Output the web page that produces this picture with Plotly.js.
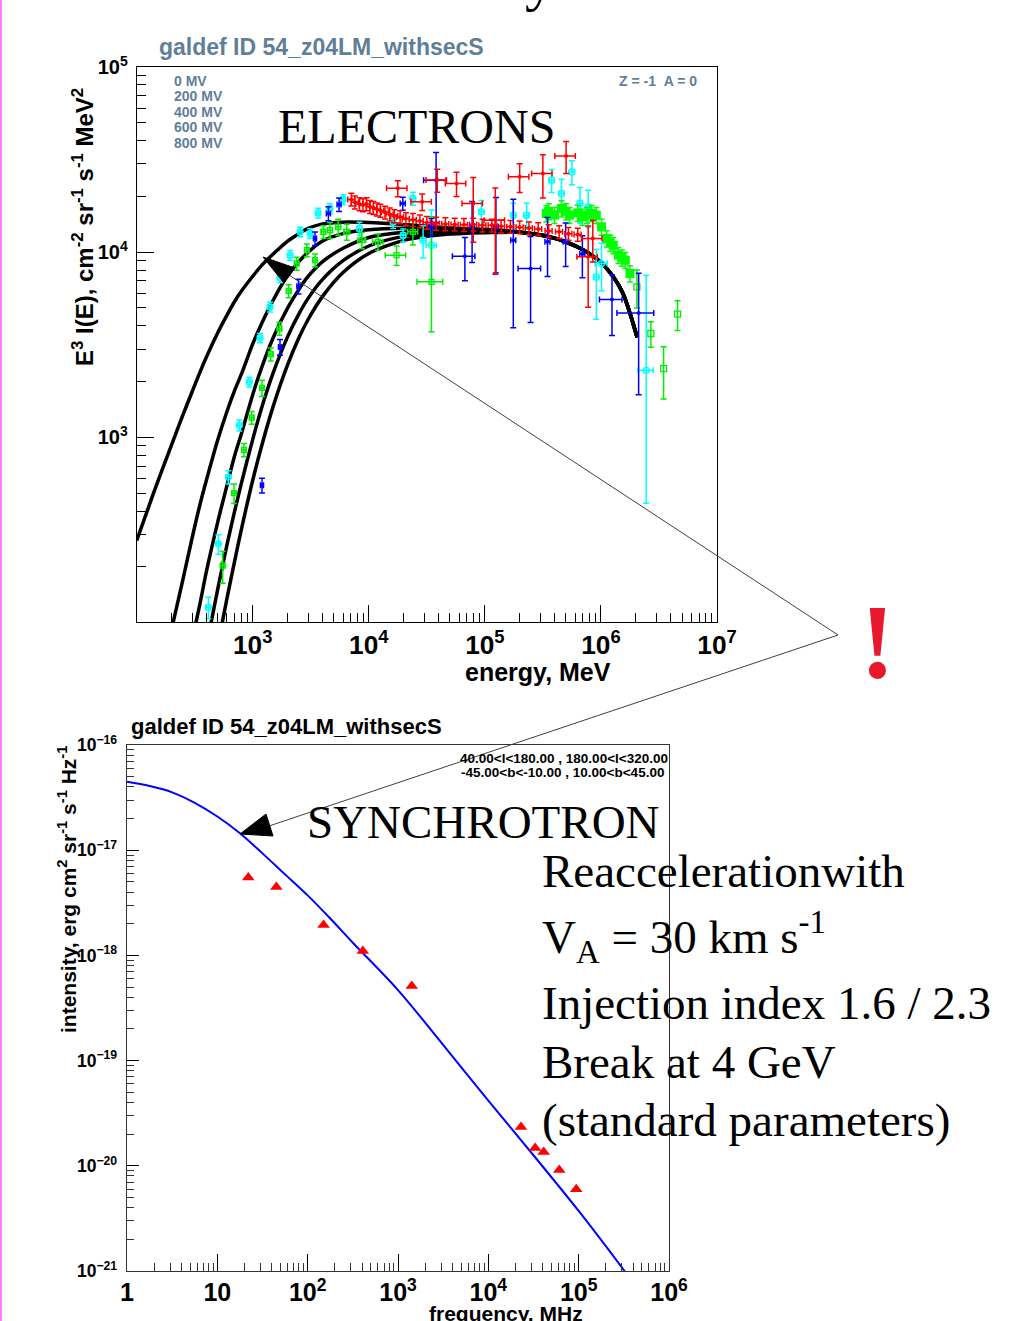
<!DOCTYPE html>
<html><head><meta charset="utf-8">
<script src="https://cdn.plot.ly/plotly-3.0.1.min.js"></script>
<style>html,body{margin:0;padding:0;background:#fff}#chart{width:1012px;height:1321px}</style>
</head><body><div id="chart"></div>
<script>
// ===== Top panel: electron spectra E^3 I(E) =====
const modelEnergy = [100,140,200,250,300,350,400,500,600,700,800,1000,1200,1500,2000,2500,3000,4000,6000,10000,20000,40000,70000,120000,200000,350000,500000,700000,1000000,1300000,1550000,1800000,2050000];
const model0MV   = [277,501,912,1318,1758,2239,2723,3673,4571,5433,6166,7413,8511,9772,11480,12590,13430,14220,14520,14450,14100,13650,13400,13200,12800,12150,11350,10300,8800,7250,5980,4570,3470];
const model200MV = [null,null,92,170,285,430,590,970,1380,1800,2200,3200,4150,5500,7500,8900,10000,11500,12600,13200,13450,13400,13350,13150,12800,12150,11350,10300,8800,7250,5980,4570,3470];
const model400MV = [null,null,null,null,80,125,190,350,550,800,1050,1700,2400,3450,5000,6300,7400,8900,10500,12000,12800,13050,13100,13050,12800,12150,11350,10300,8800,7250,5980,4570,3470];
const model600MV = [null,null,null,null,null,null,75,152,263,402,568,976,1460,2230,3500,4640,5630,7130,9000,10800,12170,12670,12840,12950,12800,12150,11350,10300,8800,7250,5980,4570,3470];
const model800MV = [null,null,null,null,null,null,null,75,135,216,320,587,910,1470,2470,3450,4330,5770,7760,9840,11590,12370,12660,12760,12800,12150,11350,10300,8800,7250,5980,4570,3470];
const modelLabels = ['0 MV','200 MV','400 MV','600 MV','800 MV'];

// measured electrons (energy MeV, E^3 I, errors)
const redE = [7080,7590,8320,8910,9550,10230,10960,11750,12590,13800,15140,16600,18620,20890,23990,27540,31620,38020,45710,54950,66070,79430,95500,114800,138000,166000,199500,239900,288400,354800,436500,524800,631000];
const redY = [19280,18620,18200,17990,18200,17580,17380,17060,16790,16410,16030,15670,15490,15140,14960,14720,14450,14290,14190,14130,14060,14130,13960,13960,13800,13740,13650,13490,13340,13030,12880,12590,12450];
const red2E = [17780,28840,38900,57020,79430,123000,199500,316200,501200,776200,851100];
const red2Y = [22130,18710,24550,23500,18320,14890,25530,26610,33110,9440,11860];
const red2Err = [2200,1900,3500,3500,7000,7300,4500,7000,6500,4400,3000];

const blueE = [1202,1718,2477,3443,4487,5546,19630,34670,38020,67300,77620,124500,175800,247700,346700,496600,691800,1245000,2113000];
const blueY = [551,3076,6546,11860,16180,18110,18320,13710,24490,9510,13800,13710,11610,8170,11380,11380,9770,5546,4699];
const blueErr = [50,300,600,1000,1400,1500,1500,1500,10000,2500,5000,6000,7700,4000,4000,3000,2500,2000,3000];
const blueXrel = [0.03,0.03,0.03,0.03,0.04,0.04,0.05,0.05,0.22,0.22,0.05,0.05,0.05,0.22,0.05,0.05,0.05,0.22,0.35];

const cyanE = [415,506,617,767,935,1156,1409,1718,2099,2559,3119,3656,4613,6026,8318,16220,19770,23990,29380,34670,93330,175800,229100,375800,457100,562300,660700,776200,912000,1012000,2455000];
const cyanY = [121,266,610,1161,1991,3443,5058,7295,9638,12880,12620,16290,17220,19280,13430,14590,12360,19500,11610,10910,16520,15850,15850,24490,20750,27160,18320,17580,7345,8690,2301];
const cyanErrUp = [16,32,50,80,120,200,300,440,580,770,760,980,1030,1160,1070,1170,1000,1560,2300,6000,2500,2500,2500,3500,4000,4000,4000,4000,3000,2500,5200];
const cyanErrDn = [16,32,50,80,120,200,300,440,580,770,760,980,1030,1160,1070,1170,1000,1560,2300,4000,2500,2500,2500,3500,4000,4000,4000,4000,3000,2500,1860];
const cyanXrel = [0.04,0.04,0.04,0.04,0.04,0.04,0.04,0.04,0.04,0.04,0.04,0.04,0.04,0.04,0.05,0.05,0.05,0.05,0.05,0.1,0.05,0.05,0.05,0.05,0.05,0.05,0.05,0.05,0.05,0.12,0.15];

const greenE = [551,690,841,980,1202,1429,1698,2042,2393,2924,3443,4064,4634,5445,6457,8710,12020,17340,23990,34670];
const greenY = [203,500,857,1279,1849,2812,3873,6180,8690,10260,9057,12880,13150,13710,12880,11610,11380,9638,12880,6918];
const greenErrUp = [40,60,70,100,185,225,310,500,700,820,720,1030,1300,1370,1290,1160,1140,1160,1930,8600];
const greenErrDn = [40,60,70,100,185,225,310,500,700,820,720,1030,1300,1370,1290,1160,1140,1160,1930,3200];
const greenXrel = [0.04,0.04,0.04,0.04,0.04,0.04,0.04,0.04,0.04,0.04,0.04,0.04,0.05,0.05,0.06,0.08,0.1,0.2,0.1,0.25];
const greenHiE = [338800,354800,398100,457100,501200,537000,631000,691800,758600,831800,912000,1012000,1122000,1202000,1276000,1413000,1514000,1622000,1778000];
const greenHiY = [16180,16600,15850,17220,16600,15850,16290,15490,15850,16220,15850,13710,11860,11220,10910,9638,9330,9057,7674];
const greenFarE = [2042000,2692000,3467000,4571000];
const greenFarY = [6501,3639,2350,4624];
const greenFarErr = [1500,570,740,850];

// ===== Bottom panel: synchrotron =====
const freqModel = [1,1.78,3.16,5.62,10,17.8,31.6,56.2,100,178,316,1000,3160,10000,31600,100000,316000,355000];
const synchModel = [4.47e-17,4.07e-17,3.55e-17,2.82e-17,2.09e-17,1.45e-17,9.33e-18,5.89e-18,3.72e-18,2.24e-18,1.32e-18,4.68e-19,1.41e-19,4.17e-20,1.26e-20,3.72e-21,1.02e-21,8.9e-22];
const surveyFreq = [22,45,150,408,1420,23000,33000,41000,61000,94000];
const surveyI = [5.5e-18,4.47e-18,1.95e-18,1.10e-18,5.13e-19,2.34e-20,1.48e-20,1.35e-20,9.1e-21,6.0e-21];

// ===== Drawing =====
const W = 1012, H = 1321;
const SANS = 'Liberation Sans, Arial, sans-serif';
const SERIF = 'Liberation Serif, Times New Roman, serif';
const SLATE = '#5f7e98';
const px = x => x / W, py = y => 1 - y / H;

function errBar(color, up, dn){ return {type:'data', symmetric: dn===undefined, array: up, arrayminus: dn, color, thickness:1.5, width:3}; }
function relErr(E, rel){ return E.map((e,i)=>e*rel[i]); }

const traces = [];
[model0MV, model200MV, model400MV, model600MV, model800MV].forEach((m,i)=>{
  traces.push({x:modelEnergy, y:m, name:modelLabels[i], type:'scatter', mode:'lines', xaxis:'x', yaxis:'y',
    line:{color:'#000', width:3.5, shape:'spline', smoothing:0.8}, connectgaps:false});
});
traces.push({x:cyanE, y:cyanY, type:'scatter', mode:'markers', xaxis:'x', yaxis:'y',
  marker:{symbol:'circle-open', size:6, color:'#00ffff', line:{width:1.3, color:'#00ffff'}},
  error_y: errBar('#00ffff', cyanErrUp, cyanErrDn), error_x:{type:'data', array: relErr(cyanE,cyanXrel), color:'#00ffff', thickness:1.5, width:3}});
traces.push({x:greenE, y:greenY, type:'scatter', mode:'markers', xaxis:'x', yaxis:'y',
  marker:{symbol:'square-open', size:5, color:'#00ee00', line:{width:1.2, color:'#00ee00'}},
  error_y: errBar('#00ee00', greenErrUp, greenErrDn), error_x:{type:'data', array: relErr(greenE,greenXrel), color:'#00ee00', thickness:1.5, width:3}});
traces.push({x:greenHiE, y:greenHiY, type:'scatter', mode:'markers', xaxis:'x', yaxis:'y',
  marker:{symbol:'square', size:9, color:'#00ff00'},
  error_y:{type:'percent', value:10, color:'#00ff00', thickness:1.5, width:3}, error_x:{type:'percent', value:5, color:'#00ff00', thickness:1.5, width:3}});
traces.push({x:greenFarE, y:greenFarY, type:'scatter', mode:'markers', xaxis:'x', yaxis:'y',
  marker:{symbol:'square-open', size:6, color:'#00ee00', line:{width:1.3, color:'#00ee00'}},
  error_y: errBar('#00ee00', greenFarErr)});
traces.push({x:blueE, y:blueY, type:'scatter', mode:'markers', xaxis:'x', yaxis:'y',
  marker:{symbol:'circle', size:4, color:'#0000ff'},
  error_y: errBar('#0000ff', blueErr), error_x:{type:'data', array: relErr(blueE,blueXrel), color:'#0000ff', thickness:1.5, width:3}});
traces.push({x:redE, y:redY, type:'scatter', mode:'markers', xaxis:'x', yaxis:'y',
  marker:{symbol:'circle', size:4, color:'#ff0000'},
  error_y:{type:'percent', value:8, color:'#ff0000', thickness:1.5, width:3}, error_x:{type:'percent', value:7, color:'#ff0000', thickness:1.5, width:3}});
traces.push({x:red2E, y:red2Y, type:'scatter', mode:'markers', xaxis:'x', yaxis:'y',
  marker:{symbol:'circle', size:4, color:'#ff0000'},
  error_y: errBar('#ff0000', red2Err), error_x:{type:'percent', value:20, color:'#ff0000', thickness:1.5, width:3}});

traces.push({x:freqModel, y:synchModel, type:'scatter', mode:'lines', xaxis:'x2', yaxis:'y2',
  line:{color:'#0000ff', width:2, shape:'spline', smoothing:1}});
traces.push({x:surveyFreq, y:surveyI, type:'scatter', mode:'markers', xaxis:'x2', yaxis:'y2',
  marker:{symbol:'triangle-up', size:11, color:'#ff0000'}});

function logAxis(extra){
  return Object.assign({type:'log', dtick:1, tick0:0, exponentformat:'power', showline:true, linecolor:'#000', linewidth:1, mirror:true,
    ticks:'inside', tickcolor:'#000', tickwidth:1, showgrid:false, zeroline:false,
    minor:{ticks:'inside', ticklen:9, tickcolor:'#000', tickwidth:1, showgrid:false}}, extra);
}

const tickBold = s => ({family:SANS, size:s, color:'#000', weight:'bold'});

const layout = {
  width:W, height:H, margin:{l:0,r:0,t:0,b:0}, paper_bgcolor:'#fff', plot_bgcolor:'#fff', showlegend:false,
  xaxis: logAxis({domain:[px(137),px(717)], anchor:'y', range:[2.003,7], ticklen:17, tickfont:tickBold(21), ticklabelstandoff:1}),
  yaxis: logAxis({domain:[py(622),py(67)], anchor:'x', range:[2.003,5], ticklen:17, tickfont:tickBold(16), ticklabelstandoff:5}),
  xaxis2: logAxis({domain:[px(127),px(669)], anchor:'y2', range:[0,6], ticklen:17, tickfont:tickBold(20), ticklabelstandoff:0,
    linecolor:'#333', minor:{ticks:'inside', ticklen:8, tickcolor:'#333', tickwidth:1, showgrid:false}}),
  yaxis2: logAxis({domain:[py(1271),py(745)], anchor:'x2', range:[-21,-16], ticklen:12, tickfont:tickBold(14), ticklabelstandoff:6,
    linecolor:'#333', minor:{ticks:'inside', ticklen:7, tickcolor:'#333', tickwidth:1, showgrid:false}}),
  annotations: [],
  shapes: []
};

function ann(text, x, y, opts){
  return Object.assign({text, x:px(x), y:py(y), xref:'paper', yref:'paper', showarrow:false, xanchor:'center', yanchor:'middle'}, opts);
}
const A = layout.annotations;
A.push(ann('galdef ID 54_z04LM_withsecS', 157, 47, {xanchor:'left', font:{family:SANS, size:23, color:SLATE, weight:'bold'}}));
modelLabels.forEach((t,i)=>A.push(ann(t, 172, 81 + i*15.5, {xanchor:'left', font:{family:SANS, size:14, color:SLATE, weight:'bold'}})));
A.push(ann('Z = -1\u00a0\u00a0A = 0', 699, 81, {xanchor:'right', font:{family:SANS, size:14, color:SLATE, weight:'bold'}}));
A.push(ann('ELECTRONS', 276, 127, {xanchor:'left', font:{family:SERIF, size:48, color:'#000'}}));
A.push(ann('E<sup>3</sup> I(E), cm<sup>-2</sup> sr<sup>-1</sup> s<sup>-1</sup> MeV<sup>2</sup>', 83, 227, {textangle:-90, font:{family:SANS, size:24, color:'#000', weight:'bold'}}));
A.push(ann('energy, MeV', 538, 672, {font:{family:SANS, size:25, color:'#000', weight:'bold'}}));

A.push(ann('galdef ID 54_z04LM_withsecS', 129, 726, {xanchor:'left', font:{family:SANS, size:22, color:'#000', weight:'bold'}}));
A.push(ann('40.00&lt;l&lt;180.00 , 180.00&lt;l&lt;320.00', 564, 758, {font:{family:SANS, size:13.5, color:'#000', weight:'bold'}}));
A.push(ann('-45.00&lt;b&lt;-10.00 , 10.00&lt;b&lt;45.00', 562, 772, {font:{family:SANS, size:13.5, color:'#000', weight:'bold'}}));
A.push(ann('intensity, erg cm<sup>2</sup> sr<sup>-1</sup> s<sup>-1</sup> Hz<sup>-1</sup>', 67, 890, {textangle:-90, font:{family:SANS, size:21, color:'#000', weight:'bold'}}));
A.push(ann('frequency, MHz', 506, 1313, {font:{family:SANS, size:21, color:'#000', weight:'bold'}}));

const serif47 = {family:SERIF, size:47, color:'#000'};
A.push(ann('SYNCHROTRON', 305, 822, {xanchor:'left', font:serif47}));
A.push(ann('Reaccelerationwith', 540, 871, {xanchor:'left', font:serif47}));
A.push(ann('V<sub>A</sub> = 30 km s<sup>-1</sup>', 540, 937, {xanchor:'left', font:serif47}));
A.push(ann('Injection index 1.6 / 2.3', 540, 1003, {xanchor:'left', font:serif47}));
A.push(ann('Break at 4 GeV', 540, 1062, {xanchor:'left', font:serif47}));
A.push(ann('(standard parameters)', 540, 1120, {xanchor:'left', font:serif47}));
A.push(ann('!', 877, 643, {font:{family:SERIF, size:105, color:'#e8192c', weight:'bold'}}));
A.push(ann('y', 540, -21, {font:{family:SERIF, size:60, color:'#000'}}));

const S = layout.shapes;
S.push({type:'line', xref:'paper', yref:'paper', x0:px(1), x1:px(1), y0:0, y1:1, line:{color:'#ff80ff', width:2}});
S.push({type:'line', xref:'paper', yref:'paper', x0:px(838), y0:py(635), x1:px(289), y1:py(275), line:{color:'#404040', width:1}, layer:'above'});
S.push({type:'line', xref:'paper', yref:'paper', x0:px(838), y0:py(635), x1:px(269), y1:py(826), line:{color:'#404040', width:1}, layer:'above'});
function tri(p){ return 'M ' + p.map(q=>px(q[0])+' '+py(q[1])).join(' L ') + ' Z'; }
S.push({type:'path', xref:'paper', yref:'paper', path: tri([[263,257],[295,268],[284,283]]), fillcolor:'#000', line:{color:'#000', width:1}, layer:'above'});
S.push({type:'path', xref:'paper', yref:'paper', path: tri([[240,834],[266,814],[273,836]]), fillcolor:'#000', line:{color:'#000', width:1}, layer:'above'});

Plotly.newPlot('chart', traces, layout, {staticPlot:true, displayModeBar:false});
</script>
</body></html>
